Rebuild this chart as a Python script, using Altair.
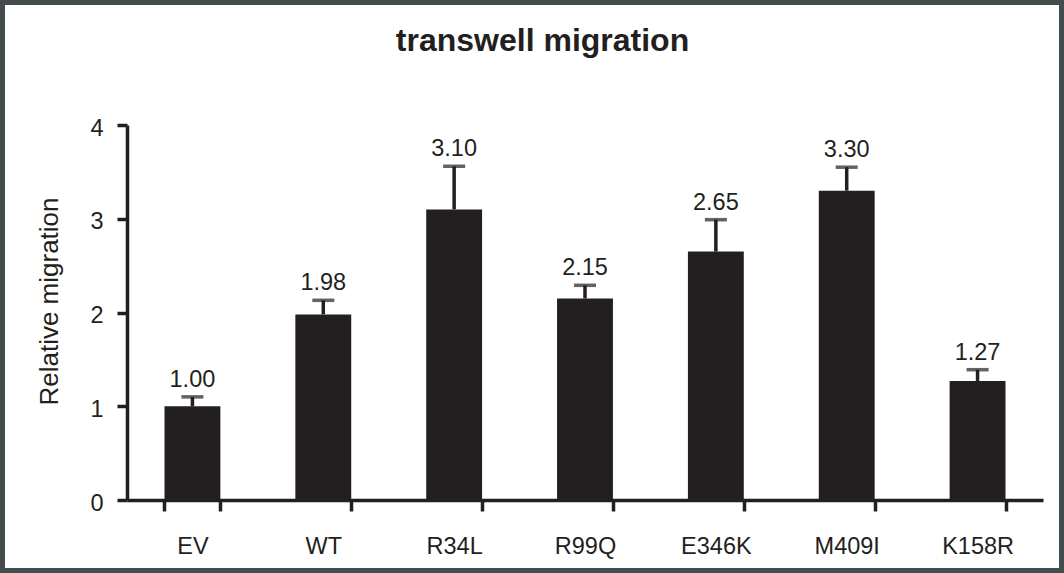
import altair as alt
import pandas as pd

# Relative transwell migration per construct (mean and error above the bar)
constructs = ["EV", "WT", "R34L", "R99Q", "E346K", "M409I", "K158R"]
means = [1.00, 1.98, 3.10, 2.15, 2.65, 3.30, 1.27]
errors = [0.10, 0.15, 0.46, 0.14, 0.34, 0.25, 0.12]
labels = ["1.00", "1.98", "3.10", "2.15", "2.65", "3.30", "1.27"]
y_ticks = [0, 1, 2, 3, 4]

df = pd.DataFrame({
    "construct": constructs,
    "mean": means,
    "upper": [m + e for m, e in zip(means, errors)],
    "label": labels,
})

INK = "#231f20"
FONT = "Liberation Sans"
W, H = 916, 375
PAD_L, PAD_T, PAD_R, PAD_B = 127, 125, 21, 73

x_enc = alt.X(
    "construct:N",
    sort=constructs,
    scale=alt.Scale(paddingInner=0.573, paddingOuter=0.2865),
    axis=alt.Axis(
        title=None, labelAngle=0, tickBand="extent", grid=False,
        domainColor=INK, domainWidth=3.5, tickColor=INK, tickWidth=3.5,
        tickSize=11, labelFontSize=23.5, labelColor=INK, labelFont=FONT,
        labelBaseline="alphabetic", labelPadding=42,
    ),
)
y_scale = alt.Scale(domain=[0, 4], nice=False)

base = alt.Chart(df)

bars = base.mark_bar(color=INK).encode(
    x=x_enc,
    y=alt.Y(
        "mean:Q", scale=y_scale,
        axis=alt.Axis(
            title="Relative migration", values=y_ticks, format="d", grid=False,
            domainColor=INK, domainWidth=3.5, tickColor=INK, tickWidth=3.5,
            tickSize=10, labelFontSize=23.5, labelColor=INK, labelFont=FONT,
            labelPadding=14, labelOffset=3, titleFontSize=26, titleFont=FONT,
            titleFontWeight="normal", titleColor=INK, titlePadding=27,
            titleY=176,
        ),
    ),
)

stems = base.mark_rule(color=INK, strokeWidth=3.5).encode(
    x=alt.X("construct:N", sort=constructs),
    y=alt.Y("mean:Q", scale=y_scale),
    y2="upper:Q",
)

caps = base.mark_tick(color=INK, thickness=3.5, size=22, orient="horizontal").encode(
    x=alt.X("construct:N", sort=constructs),
    y=alt.Y("upper:Q", scale=y_scale),
)

values = base.mark_text(
    color=INK, font=FONT, fontSize=23.5, baseline="alphabetic", dy=-10
).encode(
    x=alt.X("construct:N", sort=constructs),
    y=alt.Y("upper:Q", scale=y_scale),
    text="label:N",
)

# Outer frame around the whole figure
frame = alt.Chart(alt.Data(values=[{}])).mark_rect(
    fillOpacity=0, stroke="#444c4e", strokeWidth=5
).encode(
    x=alt.value(-PAD_L + 2.5),
    x2=alt.value(W + PAD_R - 2.5),
    y=alt.value(-PAD_T + 2.5),
    y2=alt.value(H + PAD_B - 2.5),
)

chart = alt.layer(bars, stems, caps, values, frame).properties(
    width=W,
    height=H,
    autosize=alt.AutoSizeParams(type="none"),
    padding={"left": PAD_L, "top": PAD_T, "right": PAD_R, "bottom": PAD_B},
    background="white",
    title=alt.TitleParams(
        "transwell migration", font=FONT, fontSize=32, fontWeight="bold",
        color=INK, anchor="middle", frame="group", baseline="alphabetic",
        dx=-42.5, dy=33, offset=-50,
    ),
).configure_view(stroke=None)

chart.save("out.html", embed_options={"renderer": "svg", "actions": False})
